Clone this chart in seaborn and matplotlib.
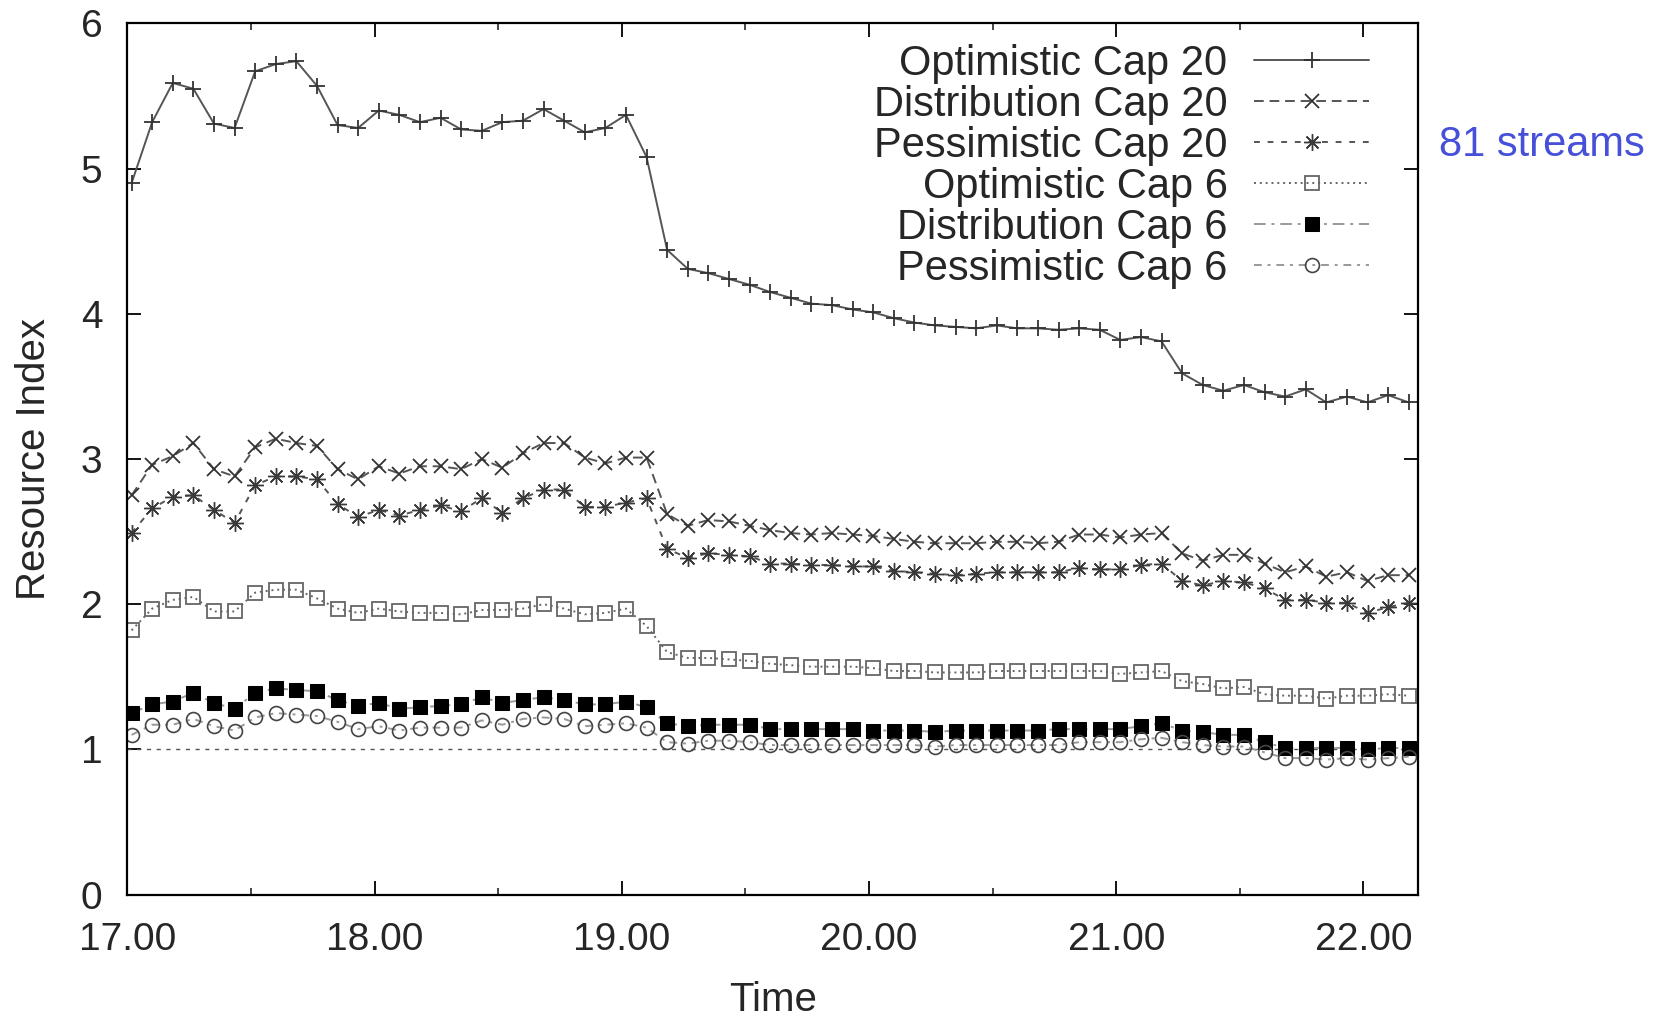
import numpy as np
import pandas as pd
import matplotlib
matplotlib.use('Agg')
import matplotlib.pyplot as plt
import seaborn as sns

sns.set_style("ticks")
plt.rcParams['font.family'] = ['Liberation Sans', 'DejaVu Sans']

# 采样时间：17:01 起每 5 分钟一个点（单位：小时）
n_points = 63
hours = 17 + (1 + 5 * np.arange(n_points)) / 60

opt_cap20 = [4.90, 5.32, 5.59, 5.55, 5.31, 5.28, 5.67, 5.72, 5.74, 5.57,
             5.30, 5.28, 5.40, 5.37, 5.32, 5.35, 5.27, 5.26, 5.32, 5.33,
             5.41, 5.33, 5.25, 5.28, 5.37, 5.08, 4.44, 4.31, 4.28, 4.24,
             4.20, 4.15, 4.11, 4.07, 4.06, 4.03, 4.01, 3.97, 3.94, 3.92,
             3.91, 3.90, 3.92, 3.90, 3.90, 3.89, 3.90, 3.89, 3.82, 3.84,
             3.81, 3.59, 3.51, 3.47, 3.51, 3.46, 3.43, 3.48, 3.39, 3.43,
             3.39, 3.44, 3.39]
dist_cap20 = [2.75, 2.96, 3.02, 3.11, 2.93, 2.88, 3.08, 3.14, 3.11, 3.09,
              2.93, 2.86, 2.95, 2.90, 2.95, 2.95, 2.93, 3.00, 2.94, 3.04,
              3.11, 3.11, 3.01, 2.97, 3.01, 3.01, 2.62, 2.54, 2.58, 2.57,
              2.54, 2.51, 2.49, 2.48, 2.49, 2.48, 2.47, 2.45, 2.43, 2.42,
              2.42, 2.42, 2.43, 2.43, 2.42, 2.43, 2.48, 2.48, 2.46, 2.48,
              2.49, 2.35, 2.30, 2.34, 2.34, 2.28, 2.22, 2.26, 2.19, 2.22,
              2.16, 2.20, 2.20]
pess_cap20 = [2.49, 2.66, 2.74, 2.75, 2.65, 2.56, 2.82, 2.88, 2.88, 2.86,
              2.69, 2.60, 2.65, 2.61, 2.65, 2.68, 2.64, 2.73, 2.63, 2.73,
              2.79, 2.79, 2.67, 2.67, 2.70, 2.73, 2.38, 2.32, 2.35, 2.34,
              2.33, 2.28, 2.28, 2.27, 2.27, 2.26, 2.26, 2.23, 2.22, 2.21,
              2.20, 2.21, 2.22, 2.22, 2.22, 2.22, 2.25, 2.24, 2.24, 2.27,
              2.28, 2.16, 2.13, 2.16, 2.15, 2.11, 2.03, 2.03, 2.01, 2.01,
              1.94, 1.98, 2.01]
opt_cap6 = [1.82, 1.97, 2.03, 2.05, 1.95, 1.95, 2.08, 2.10, 2.10, 2.04,
            1.97, 1.94, 1.97, 1.95, 1.94, 1.94, 1.93, 1.96, 1.96, 1.97,
            2.00, 1.97, 1.93, 1.94, 1.97, 1.85, 1.67, 1.63, 1.63, 1.62,
            1.61, 1.59, 1.58, 1.57, 1.57, 1.57, 1.56, 1.54, 1.54, 1.53,
            1.53, 1.53, 1.54, 1.54, 1.54, 1.54, 1.54, 1.54, 1.52, 1.53,
            1.54, 1.47, 1.45, 1.42, 1.43, 1.38, 1.37, 1.37, 1.35, 1.37,
            1.37, 1.38, 1.37]
dist_cap6 = [1.25, 1.31, 1.33, 1.39, 1.32, 1.28, 1.39, 1.42, 1.41, 1.40,
             1.34, 1.30, 1.32, 1.28, 1.29, 1.30, 1.31, 1.36, 1.32, 1.34,
             1.36, 1.34, 1.31, 1.31, 1.33, 1.29, 1.18, 1.16, 1.17, 1.17,
             1.17, 1.14, 1.14, 1.14, 1.14, 1.14, 1.13, 1.13, 1.13, 1.12,
             1.13, 1.13, 1.13, 1.13, 1.13, 1.14, 1.14, 1.14, 1.14, 1.16,
             1.18, 1.13, 1.12, 1.10, 1.10, 1.05, 1.01, 1.01, 1.01, 1.01,
             1.00, 1.01, 1.01]
pess_cap6 = [1.10, 1.17, 1.17, 1.21, 1.16, 1.13, 1.22, 1.25, 1.24, 1.23,
             1.19, 1.14, 1.16, 1.13, 1.15, 1.15, 1.15, 1.20, 1.17, 1.21,
             1.22, 1.21, 1.16, 1.17, 1.18, 1.15, 1.05, 1.04, 1.06, 1.06,
             1.05, 1.03, 1.03, 1.03, 1.03, 1.03, 1.03, 1.03, 1.03, 1.02,
             1.03, 1.03, 1.03, 1.03, 1.03, 1.03, 1.05, 1.05, 1.05, 1.07,
             1.08, 1.05, 1.03, 1.02, 1.02, 0.98, 0.94, 0.94, 0.93, 0.94,
             0.93, 0.94, 0.95]

df = pd.DataFrame({
    'Time': hours,
    'Optimistic Cap 20': opt_cap20,
    'Distribution Cap 20': dist_cap20,
    'Pessimistic Cap 20': pess_cap20,
    'Optimistic Cap 6': opt_cap6,
    'Distribution Cap 6': dist_cap6,
    'Pessimistic Cap 6': pess_cap6,
})

# 每条线的样式 (线型, 线色, 标记)
styles = {
    'Optimistic Cap 20': dict(linestyle='-', color='#555555', marker='+', markersize=12,
                              markeredgecolor='#333333', markeredgewidth=1.3),
    'Distribution Cap 20': dict(linestyle=(0, (5, 3)), color='#555555', marker='x', markersize=10,
                                markeredgecolor='#333333', markeredgewidth=1.3),
    'Pessimistic Cap 20': dict(linestyle=(0, (3, 4)), color='#555555', marker=(8, 2, 0), markersize=12,
                               markeredgecolor='#3a3a3a', markeredgewidth=1.0),
    'Optimistic Cap 6': dict(linestyle=(0, (1, 2)), color='#666666', marker='s', markersize=9.5,
                             markerfacecolor='none', markeredgecolor='#666666', markeredgewidth=1.3),
    'Distribution Cap 6': dict(linestyle=(0, (6, 3, 1.5, 3)), color='#999999', marker='s', markersize=9.5,
                               markerfacecolor='black', markeredgecolor='black'),
    'Pessimistic Cap 6': dict(linestyle=(0, (4, 3, 1.5, 3)), color='#999999', marker='o', markersize=10,
                              markerfacecolor='none', markeredgecolor='#444444', markeredgewidth=1.2),
}

fig = plt.figure(figsize=(16.66, 10.18), dpi=100)
ax = fig.add_axes([0.0765, 0.1212, 0.7745, 0.8558])

ax.axhline(1, color='#555555', linestyle=(0, (3, 4)), linewidth=1.0, zorder=1)

for name, st in styles.items():
    sns.lineplot(data=df, x='Time', y=name, ax=ax, label=name, linewidth=1.4, **st)

ax.set_xlim(17.0, 22.22)
ax.set_ylim(0, 6)
ax.set_xticks([17, 18, 19, 20, 21, 22])
ax.set_xticks([17.5, 18.5, 19.5, 20.5, 21.5], minor=True)
ax.set_xticklabels([f"{t:.2f}" for t in [17, 18, 19, 20, 21, 22]])
ax.set_yticks(range(0, 7))

ax.tick_params(axis='both', which='major', direction='in', length=10, width=1.3,
               top=True, right=True, labelsize=28, color='black')
ax.tick_params(axis='x', which='major', pad=20)
ax.tick_params(axis='y', which='major', pad=18)
ax.tick_params(axis='x', which='minor', direction='in', length=5, width=1.2, top=True)
for sp in ax.spines.values():
    sp.set_linewidth(1.6)
    sp.set_color('black')

ax.set_xlabel('Time', fontsize=29, labelpad=16)
ax.set_ylabel('Resource Index', fontsize=29, labelpad=20)

leg = ax.legend(loc='upper right', bbox_to_anchor=(0.975, 0.996), frameon=False,
                markerfirst=False, fontsize=30, labelspacing=0.025, handlelength=2.75,
                handletextpad=0.64, borderaxespad=0, numpoints=1)
for t in leg.get_texts():
    t.set_ha('right')

fig.text(0.864, 0.858, '81 streams', fontsize=30, color='#4650d8', va='center', ha='left')

fig.savefig('out.png', dpi=100)
